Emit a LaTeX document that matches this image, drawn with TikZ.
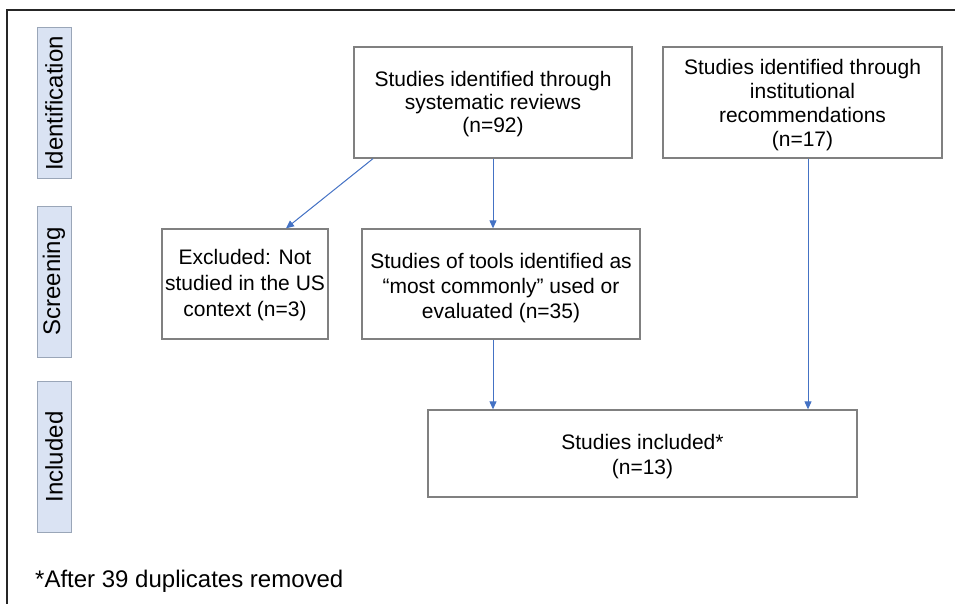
\documentclass[tikz,border=0pt]{standalone}
\usepackage{fontspec}
\setmainfont{Liberation Sans}
\usetikzlibrary{arrows.meta}
\definecolor{arrowblue}{HTML}{4472C4}
\definecolor{boxgray}{HTML}{808080}
\definecolor{labfill}{HTML}{DAE3F3}
\definecolor{labdraw}{HTML}{9AA6B8}
\newcommand{\btext}[3]{\raisebox{-#1}[\height][\depth]{\renewcommand{\arraystretch}{#2}\begin{tabular}{@{}c@{}}#3\end{tabular}}}
\tikzset{
  flowbox/.style={draw=boxgray, line width=1.3pt, fill=white, align=center, inner sep=0pt,
    font=\fontsize{21}{25}\selectfont},
  phaselabel/.style={draw=labdraw, line width=1pt, fill=labfill, rotate=90, inner sep=0pt,
    minimum width=151pt, minimum height=34pt, font=\fontsize{24}{28}\selectfont},
  flowarrow/.style={draw=arrowblue, line width=1pt, -{Triangle[length=8pt,width=7pt]}},
  framel/.style={draw=black!85, line width=1.5pt}
}
\begin{document}
\begin{tikzpicture}[x=1pt, y=-1pt]
\useasboundingbox (0,0) rectangle (955,604);
% frame
\coordinate (f0) at (7,10);
\coordinate (f1) at (7,620);
\coordinate (f2) at (970,10);
\draw[framel] (f1) -- (f0) -- (f2);
% phase labels
\node[phaselabel] (lid) at (54,103.5) {Identification};
\node[phaselabel] (lsc) at (54,281.5) {Screening};
\node[phaselabel] (lin) at (54,457) {Included};
% boxes
\node[flowbox, minimum width=278pt, minimum height=111pt] (A) at (493,102.5)
  {\btext{2pt}{0.92}{Studies identified through\\systematic reviews\\(n=92)}};
\node[flowbox, minimum width=279pt, minimum height=111pt] (B) at (802.5,102.5)
  {\btext{3pt}{0.96}{Studies identified through\\institutional\\recommendations\\(n=17)}};
\node[flowbox, minimum width=166pt, minimum height=110pt] (C) at (245,284)
  {\btext{1pt}{1.04}{Excluded: Not\\studied in the US\\context (n=3)}};
\node[flowbox, minimum width=278pt, minimum height=110pt] (D) at (501,284)
  {\btext{4pt}{1}{Studies of tools identified as\\``most commonly'' used or\\evaluated (n=35)}};
\node[flowbox, minimum width=429pt, minimum height=87pt] (E) at (642.5,453.5)
  {\btext{3.5pt}{1}{Studies included*\\(n=13)}};
% arrows
\draw[flowarrow] ([xshift=-120pt]A.south) -- ([xshift=41pt]C.north);
\draw[flowarrow] (A.south) -- (A.south |- D.north);
\draw[flowarrow] (D.south -| A.south) -- (E.north -| A.south);
\draw[flowarrow] ([xshift=5.5pt]B.south) -- ([xshift=5.5pt]B.south |- E.north);
% footnote
\node[anchor=base west, inner sep=0pt, font=\fontsize{24}{28}\selectfont] (note) at (35,587)
  {*After 39 duplicates removed};
\end{tikzpicture}
\end{document}
